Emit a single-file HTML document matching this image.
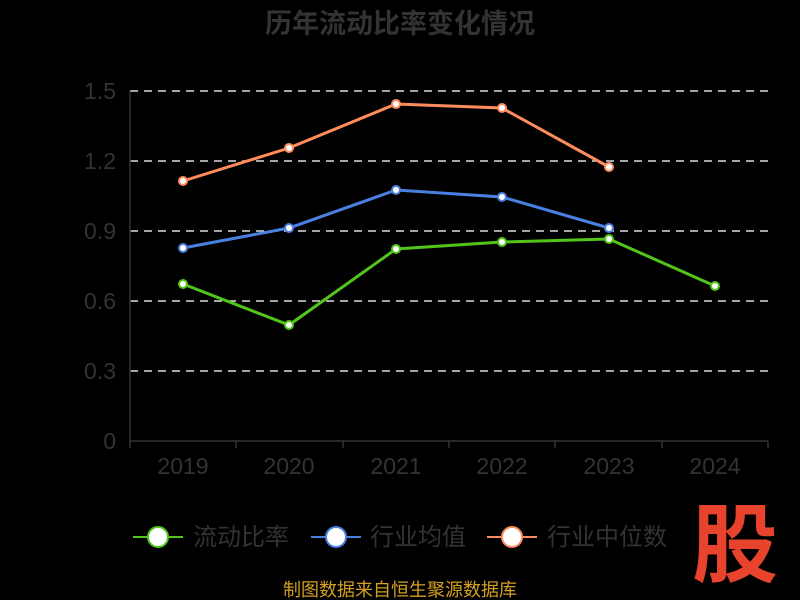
<!DOCTYPE html>
<html><head><meta charset="utf-8"><style>
html,body{margin:0;padding:0;background:#000;}
svg{display:block;font-family:"Liberation Sans","Noto Sans CJK SC",sans-serif;}
</style></head><body>
<svg width="800" height="600" viewBox="0 0 800 600" xmlns="http://www.w3.org/2000/svg">
<rect width="800" height="600" fill="#000"/>
<text x="400" y="33" text-anchor="middle" font-size="27" font-weight="bold" fill="#333">历年流动比率变化情况</text>
<g stroke="#ddd" stroke-width="1.5" stroke-dasharray="8,6">
<line x1="130" y1="91" x2="768" y2="91"/>
<line x1="130" y1="161" x2="768" y2="161"/>
<line x1="130" y1="231" x2="768" y2="231"/>
<line x1="130" y1="301" x2="768" y2="301"/>
<line x1="130" y1="371" x2="768" y2="371"/>
</g>
<g stroke="#333" stroke-width="1.5">
<line x1="130" y1="91" x2="130" y2="441"/>
<line x1="130" y1="441" x2="768" y2="441"/>
<line x1="130" y1="441" x2="130" y2="448"/><line x1="236" y1="441" x2="236" y2="448"/>
<line x1="343" y1="441" x2="343" y2="448"/><line x1="449" y1="441" x2="449" y2="448"/>
<line x1="555" y1="441" x2="555" y2="448"/><line x1="662" y1="441" x2="662" y2="448"/>
<line x1="768" y1="441" x2="768" y2="448"/>
</g>
<g font-size="23" fill="#333" text-anchor="end">
<text x="116" y="99">1.5</text><text x="116" y="169">1.2</text><text x="116" y="239">0.9</text>
<text x="116" y="309">0.6</text><text x="116" y="379">0.3</text><text x="116" y="449">0</text>
</g>
<g font-size="23" fill="#333" text-anchor="middle">
<text x="183" y="474">2019</text><text x="289" y="474">2020</text><text x="396" y="474">2021</text>
<text x="502" y="474">2022</text><text x="609" y="474">2023</text><text x="715" y="474">2024</text>
</g>
<g fill="none" stroke-width="3">
<polyline stroke="#ff8c5a" points="183,181 289,148 396,104 502,108 609,167"/>
<polyline stroke="#4a80e0" points="183,248 289,228 396,190 502,197 609,228"/>
<polyline stroke="#52c41a" points="183,284 289,325 396,249 502,242 609,239 715,286"/>
</g>
<g fill="#fff" stroke-width="2">
<g stroke="#ff8c5a"><circle cx="183" cy="181" r="4"/><circle cx="289" cy="148" r="4"/><circle cx="396" cy="104" r="4"/><circle cx="502" cy="108" r="4"/><circle cx="609" cy="167" r="4"/></g>
<g stroke="#4a80e0"><circle cx="183" cy="248" r="4"/><circle cx="289" cy="228" r="4"/><circle cx="396" cy="190" r="4"/><circle cx="502" cy="197" r="4"/><circle cx="609" cy="228" r="4"/></g>
<g stroke="#52c41a"><circle cx="183" cy="284" r="4"/><circle cx="289" cy="325" r="4"/><circle cx="396" cy="249" r="4"/><circle cx="502" cy="242" r="4"/><circle cx="609" cy="239" r="4"/><circle cx="715" cy="286" r="4"/></g>
</g>
<g stroke-width="2">
<line x1="133" y1="537" x2="183" y2="537" stroke="#52c41a"/><circle cx="158" cy="537" r="10" fill="#fff" stroke="#52c41a"/>
<line x1="311" y1="537" x2="361" y2="537" stroke="#4a80e0"/><circle cx="336" cy="537" r="10" fill="#fff" stroke="#4a80e0"/>
<line x1="487" y1="537" x2="537" y2="537" stroke="#ff8c5a"/><circle cx="512" cy="537" r="10" fill="#fff" stroke="#ff8c5a"/>
</g>
<g font-size="24" fill="#333">
<text x="193" y="545">流动比率</text><text x="370" y="545">行业均值</text><text x="547" y="545">行业中位数</text>
</g>
<text x="735" y="575" text-anchor="middle" font-size="86" font-weight="bold" fill="#e8432d">股</text>
<text x="400" y="596" text-anchor="middle" font-size="18" fill="#d4a020">制图数据来自恒生聚源数据库</text>
</svg>
</body></html>
